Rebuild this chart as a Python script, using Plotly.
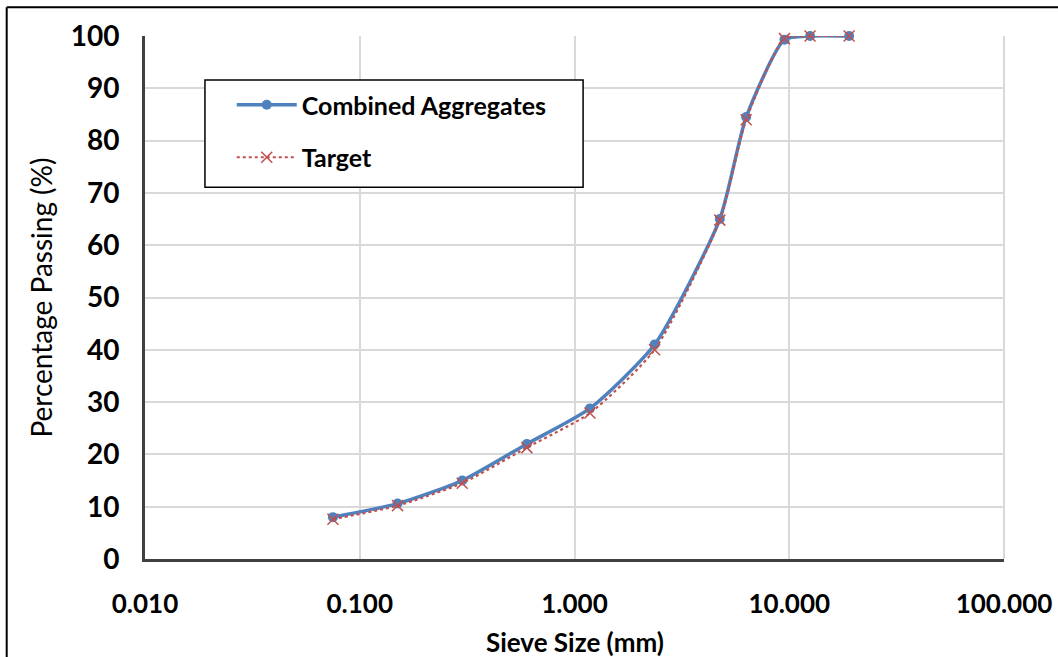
import plotly.graph_objects as go

# Sieve sizes (mm) and percentage passing
sieve_mm = [0.075, 0.15, 0.3, 0.6, 1.18, 2.36, 4.75, 6.3, 9.5, 12.5, 19.0]
combined = [8.0, 10.6, 15.0, 22.0, 28.8, 41.0, 65.0, 84.5, 99.3, 100.0, 100.0]
target = [7.6, 10.2, 14.5, 21.3, 27.9, 40.0, 64.8, 84.0, 99.5, 100.0, 100.0]

x_ticks = [0.01, 0.1, 1, 10, 100]
x_tick_text = ["0.010", "0.100", "1.000", "10.000", "100.000"]
y_ticks = list(range(0, 101, 10))

BLUE = "#4F81BD"
RED = "#C0504D"
FONT = "Lato"

fig = go.Figure()
fig.add_trace(go.Scatter(
    x=sieve_mm, y=combined, name="Combined Aggregates", legendgroup="a",
    mode="lines+markers", cliponaxis=False,
    line=dict(color=BLUE, width=3.5, shape="spline", smoothing=0.6),
    marker=dict(symbol="circle", size=10, color=BLUE),
))
fig.add_trace(go.Scatter(
    x=sieve_mm, y=target, name="Target", legendgroup="b",
    mode="lines+markers", cliponaxis=False,
    line=dict(color=RED, width=2.2, dash="dot", shape="spline", smoothing=0.6),
    marker=dict(symbol="x-thin", size=11, line=dict(color=RED, width=1.5)),
))

# outer frame (top and left edges)
fig.add_shape(type="line", xref="paper", yref="paper",
              x0=-0.161, x1=1.1, y0=1.055, y1=1.055,
              line=dict(color="black", width=2))
fig.add_shape(type="line", xref="paper", yref="paper",
              x0=-0.161, x1=-0.161, y0=-0.2, y1=1.055,
              line=dict(color="black", width=2))

# legend frame
fig.add_shape(type="rect", xref="paper", yref="paper",
              x0=0.0698, x1=0.51, y0=0.711, y1=0.916,
              line=dict(color="black", width=1.5), fillcolor="white",
              layer="above")

# x-axis title placed below the tick labels
fig.add_annotation(text="Sieve Size (mm)", xref="paper", yref="paper",
                   x=0.5, y=-0.158, xanchor="center", yanchor="middle",
                   showarrow=False, borderpad=0,
                   font=dict(family=FONT, size=26, weight="bold", color="black"))

fig.update_layout(
    width=1058, height=657,
    margin=dict(l=145, r=54, t=36, b=98, autoexpand=False),
    paper_bgcolor="white", plot_bgcolor="white",
    font=dict(family=FONT, color="black"),
    showlegend=True,
    legend=dict(
        x=0.101, y=0.912, xanchor="left", yanchor="top",
        bgcolor="rgba(0,0,0,0)", borderwidth=0,
        font=dict(family=FONT, size=25, weight="bold", color="black"),
        itemwidth=60, tracegroupgap=17,
    ),
)
fig.update_xaxes(
    type="log", range=[-2, 2], automargin=False,
    tickvals=x_ticks, ticktext=x_tick_text,
    tickfont=dict(family=FONT, size=26, weight="bold"),
    ticks="outside", ticklen=0, ticklabelstandoff=20,
    showgrid=True, gridcolor="#D9D9D9", gridwidth=2,
    showline=True, linecolor="#404040", linewidth=3,
    zeroline=False,
)
fig.update_yaxes(
    range=[0, 100], automargin=False, tickvals=y_ticks,
    tickfont=dict(family=FONT, size=28, weight="bold"),
    ticks="outside", ticklen=0, ticklabelstandoff=17,
    showgrid=True, gridcolor="#D9D9D9", gridwidth=2,
    showline=True, linecolor="#404040", linewidth=3,
    zeroline=False,
    title=dict(text="Percentage Passing (%)", standoff=10,
               font=dict(family=FONT, size=28)),
)
# right-hand border of the plot area
fig.add_shape(type="line", xref="paper", yref="paper",
              x0=1, x1=1, y0=0, y1=1, line=dict(color="#D9D9D9", width=2))

fig.write_html("out.html")
